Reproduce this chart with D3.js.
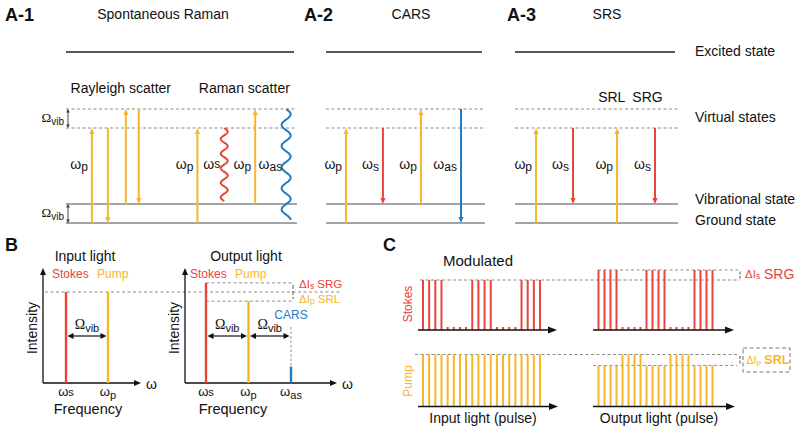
<!DOCTYPE html>
<html><head><meta charset="utf-8">
<script src="https://cdn.jsdelivr.net/npm/d3@7"></script>
<style>body{margin:0;background:#fff}svg{display:block}text{font-family:"Liberation Sans",Arial,Helvetica,sans-serif;fill:#111}</style>
</head><body><script>
// ================= DATA =================
// Panel A – energy-level diagrams
const panelIds = ["A-1", "A-2", "A-3"];
const panelTitles = ["Spontaneous Raman", "CARS", "SRS"];
const levelEnergy = [0, 1, 5, 6, 9];            // in units of Ω_vib
const levelKind = ["solid", "solid", "dashed", "dashed", "excited"];
const stateNames = ["Excited state", "Virtual states", "Vibrational state", "Ground state"];
const stateLabelEnergy = [9, 5.5, 1.2, 0.1];
const subHeads = ["Rayleigh scatter", "Raman scatter", "SRL", "SRG"];
const subHeadPanel = [0, 0, 2, 2];
const subHeadSlot = [0.02, 0.575, 0.51, 0.72];
// transitions: panel, slot (relative position in panel), from/to energy, beam, wavy, label
const transPanel = [0, 0, 0, 0, 0, 0, 0, 0, 1, 1, 1, 1, 2, 2, 2, 2];
const transSlot = [0.112, 0.181, 0.259, 0.315, 0.569, 0.685, 0.819, 0.953, 0.126, 0.358, 0.597, 0.849, 0.129, 0.356, 0.626, 0.859];
const transFrom = [0, 5, 1, 6, 0, 5, 1, 6, 0, 5, 1, 6, 0, 5, 0, 5];
const transTo = [5, 0, 6, 1, 5, 1, 6, 0, 5, 1, 6, 0, 5, 1, 5, 1];
const transBeam = ["p", "p", "p", "p", "p", "s", "p", "as", "p", "s", "p", "as", "p", "s", "p", "s"];
const transWavy = [false, false, false, false, false, true, false, true, false, false, false, false, false, false, false, false];
const transLabel = ["p", "", "", "", "p", "s*", "p", "as", "p", "s", "p", "as", "p", "s", "p", "s"];

// Panel B – spectra
const specInName = ["Stokes", "Pump"];
const specInFreq = [1, 2];            // ωs, ωp  (units of Ω_vib)
const specInI = [1, 1];
const specOutName = ["Stokes", "Pump", "CARS"];
const specOutFreq = [1, 2, 3];        // ωs, ωp, ωas
const specOutI = [1.1, 0.9, 0.18];
const freqTickLabels = ["s*", "p", "as"];

// Panel C – pulse trains (20 pulses, 4-on / 4-off modulation of Stokes)
const stokesIn  = [1,1,1,1,.06,.06,.06,.06,1,1,1,1,.06,.06,.06,.06,1,1,1,1];
const stokesOut = [1.2,1.2,1.2,1.2,.06,.06,.06,.06,1.2,1.2,1.2,1.2,.06,.06,.06,.06,1.2,1.2,1.2,1.2];
const pumpIn    = [1,1,1,1,1,1,1,1,1,1,1,1,1,1,1,1,1,1,1,1];
const pumpOut   = [.79,.79,.79,.79,1,1,1,1,.79,.79,.79,.79,1,1,1,1,.79,.79,.79,.79];

// ================= STYLE =================
const C = {p: "#f7b52a", s: "#e8443a", as: "#1f7cc4", dash: "#8a8a8a", line: "#4a4a4a", dark: "#111"};
const W = 800, H = 432;
const svg = d3.select("body").append("svg").attr("width", W).attr("height", H);

// helpers
function rich(g, x, y, parts, o = {}) {
  const t = g.append("text").attr("x", x).attr("y", y)
    .attr("font-size", o.size || 13).attr("text-anchor", o.anchor || "start")
    .attr("dominant-baseline", "middle");
  if (o.color) t.style("fill", o.color);
  if (o.weight) t.attr("font-weight", o.weight);
  if (o.rotate) t.attr("transform", `rotate(${o.rotate},${x},${y})`);
  let cur = 0;
  parts.forEach(p => {
    const s = t.append("tspan").text(p.t);
    const dy = (p.dy || 0) - cur; cur = p.dy || 0;
    if (dy) s.attr("dy", dy);
    if (p.size) s.attr("font-size", p.size);
    if (p.serif) s.style("font-family", '"Liberation Serif","Times New Roman",serif');
    if (p.weight) s.attr("font-weight", p.weight);
    if (p.color) s.style("fill", p.color);
  });
  return t;
}
function omegaParts(code, size = 14) {
  if (code === "s*") return [{t: "ω", size}, {t: "s", size: size - 2}];
  return [{t: "ω", size}, {t: code, size: size - 2, dy: 3}];
}
function OmegaVib(size = 13) {
  return [{t: "Ω", serif: true, size: size + 1}, {t: "vib", size: size - 2, dy: 3}];
}
function vArrow(g, x, y1, y2, color, w = 2, hw = 2.6, hl = 6) {
  const dir = y2 < y1 ? -1 : 1;
  g.append("line").attr("x1", x).attr("x2", x).attr("y1", y1).attr("y2", y2 - dir * (hl - 1))
    .attr("stroke", color).attr("stroke-width", w);
  g.append("path").attr("d", `M${x},${y2}L${x - hw},${y2 - dir * hl}L${x + hw},${y2 - dir * hl}Z`).attr("fill", color);
}
function hArrow(g, x1, x2, y, color, w = 1.3, hw = 3, hl = 7) {
  const dir = x2 > x1 ? 1 : -1;
  g.append("line").attr("x1", x1).attr("x2", x2 - dir * (hl - 1)).attr("y1", y).attr("y2", y)
    .attr("stroke", color).attr("stroke-width", w);
  g.append("path").attr("d", `M${x2},${y}L${x2 - dir * hl},${y - hw}L${x2 - dir * hl},${y + hw}Z`).attr("fill", color);
}
function dblH(g, x1, x2, y) { hArrow(g, (x1 + x2) / 2, x1, y, C.dark, 1.2, 3, 6); hArrow(g, (x1 + x2) / 2, x2, y, C.dark, 1.2, 3, 6); }
function dblV(g, x, y1, y2) { vArrow(g, x, (y1 + y2) / 2, y1, "#333", 0.9, 1.8, 3.5); vArrow(g, x, (y1 + y2) / 2, y2, "#333", 0.9, 1.8, 3.5); }
function wave(g, x, y1, y2, amp, n, color) {
  const pts = d3.range(0, 201).map(i => { const t = i / 200; return [x + amp * Math.sin(2 * Math.PI * n * t), y1 + (y2 - y1) * t]; });
  g.append("path").attr("d", d3.line()(pts)).attr("fill", "none").attr("stroke", color).attr("stroke-width", 2);
}

// ================= PANEL A =================
const gA = svg.append("g");
const yE = d3.scaleLinear().domain([0, 9]).range([223, 52]);
const panelRange = [[66, 297], [326, 485], [515, 678]];
const panelX = panelRange.map(r => d3.scaleLinear().domain([0, 1]).range(r));
const idX = [5, 304, 507], titleX = [163, 411, 607];

panelIds.forEach((id, i) => {
  gA.append("text").attr("x", idX[i]).attr("y", 16).attr("font-size", 18).attr("font-weight", "bold")
    .attr("dominant-baseline", "middle").text(id);
  gA.append("text").attr("x", titleX[i]).attr("y", 15.5).attr("font-size", 14).attr("text-anchor", "middle")
    .attr("dominant-baseline", "middle").text(panelTitles[i]);
  levelEnergy.forEach((e, k) => {
    const kind = levelKind[k];
    const ln = gA.append("line").attr("x1", panelRange[i][0]).attr("x2", panelRange[i][1] - (kind === "excited" ? 3 : 0))
      .attr("y1", yE(e)).attr("y2", yE(e));
    if (kind === "dashed") ln.attr("stroke", C.dash).attr("stroke-width", 1).attr("stroke-dasharray", "3,2.5");
    else if (kind === "excited") ln.attr("stroke", "#222").attr("stroke-width", 1.3);
    else ln.attr("stroke", C.line).attr("stroke-width", 1);
  });
});
stateNames.forEach((n, i) => {
  gA.append("text").attr("x", 695).attr("y", yE(stateLabelEnergy[i])).attr("font-size", 14)
    .attr("dominant-baseline", "middle").text(n);
});
subHeads.forEach((s, i) => {
  const p = subHeadPanel[i];
  gA.append("text").attr("x", panelX[p](subHeadSlot[i])).attr("y", p === 2 ? 98 : 89).attr("font-size", 14)
    .attr("dominant-baseline", "middle").text(s);
});
// Ω_vib markers
[[5, 6], [0, 1]].forEach(([a, b]) => {
  dblV(gA, 68, yE(a), yE(b));
  rich(gA, 64, (yE(a) + yE(b)) / 2, OmegaVib(12), {anchor: "end"});
});
// transitions
transSlot.forEach((s, i) => {
  const x = panelX[transPanel[i]](s), y1 = yE(transFrom[i]), y2 = yE(transTo[i]);
  const col = C[transBeam[i]];
  if (transWavy[i]) {
    const isBlue = transBeam[i] === "as";
    wave(gA, x, y1, y2 - 3, isBlue ? 4.5 : 3.5, isBlue ? 5.25 : 5, col);
  } else vArrow(gA, x, y1, y2, col);
  if (transLabel[i]) rich(gA, x - 4, 165, omegaParts(transLabel[i]), {anchor: "end"});
});

// ================= PANEL B =================
const gB = svg.append("g");
gB.append("text").attr("x", 5).attr("y", 246).attr("font-size", 18).attr("font-weight", "bold")
  .attr("dominant-baseline", "middle").text("B");
const yI = d3.scaleLinear().domain([0, 1]).range([383, 292]);
const specPanels = [
  {title: "Input light", origin: 43, xEnd: 141, x: d3.scaleLinear().domain([1, 2]).range([66, 108]),
   names: specInName, f: specInFreq, I: specInI, titleX: 85, legendX: [52, 97], freqX: 88},
  {title: "Output light", origin: 185, xEnd: 337, x: d3.scaleLinear().domain([1, 2]).range([206, 248.5]),
   names: specOutName, f: specOutFreq, I: specOutI, titleX: 246, legendX: [190, 235], freqX: 233}
];
// reference dashed line at input intensity
gB.append("line").attr("x1", 45).attr("x2", 342).attr("y1", yI(1)).attr("y2", yI(1))
  .attr("stroke", C.dash).attr("stroke-dasharray", "3,2.5");
const beamKey = {Stokes: "s", Pump: "p", CARS: "as"};
specPanels.forEach((P, pi) => {
  const g = gB.append("g");
  vArrow(g, P.origin, yI(0), 268, C.dark, 1.3, 3, 7);
  hArrow(g, P.origin, P.xEnd, yI(0), C.dark, 1.3, 3, 7);
  g.append("text").attr("x", P.xEnd + 5).attr("y", yI(0) + 2).attr("font-size", 14).attr("dominant-baseline", "middle").text("ω");
  g.append("text").attr("x", P.titleX).attr("y", 257).attr("font-size", 14).attr("text-anchor", "middle").attr("dominant-baseline", "middle").text(P.title);
  g.append("text").attr("x", P.freqX).attr("y", 410).attr("font-size", 14.5).attr("text-anchor", "middle").attr("dominant-baseline", "middle").text("Frequency");
  rich(g, P.origin - 10, 328, [{t: "Intensity"}], {anchor: "middle", rotate: -90, size: 14});
  P.names.forEach((n, k) => {
    if (k < 2) g.append("text").attr("x", P.legendX[k]).attr("y", 275).attr("font-size", 12).attr("dominant-baseline", "middle")
      .style("fill", C[beamKey[n]]).text(n);
    const x = P.x(P.f[k]);
    g.append("line").attr("x1", x).attr("x2", x).attr("y1", yI(0)).attr("y2", yI(P.I[k]))
      .attr("stroke", C[beamKey[n]]).attr("stroke-width", 2.4);
    rich(g, x, 393, omegaParts(freqTickLabels[k], 13), {anchor: "middle"});
  });
  for (let k = 0; k < P.f.length - 1; k++) {
    const a = P.x(P.f[k]), b = P.x(P.f[k + 1]), yy = 336;
    dblH(g, a + 1.5, b - 1.5, yy);
    rich(g, (a + b) / 2, 326, OmegaVib(13), {anchor: "middle"});
  }
  if (pi === 1) {
    const xs = P.x(1), xe = P.x(3) + 1;
    [1.1, 0.9].forEach(v => g.append("line").attr("x1", xs).attr("x2", xe).attr("y1", yI(v)).attr("y2", yI(v))
      .attr("stroke", C.dash).attr("stroke-dasharray", "3,2.5"));
    g.append("line").attr("x1", xe + 1).attr("x2", xe + 1).attr("y1", yI(1.1) + 2).attr("y2", yI(0.9) - 2)
      .attr("stroke", "#555").attr("stroke-width", 1).attr("stroke-dasharray", "4,2");
    rich(g, xe + 7, yI(1.1) + 2, [{t: "ΔI", color: C.s}, {t: "s", size: 8.5, dy: 2, color: C.s}, {t: " SRG", color: C.s}], {size: 11.5});
    rich(g, xe + 7, yI(0.9) - 1, [{t: "ΔI", color: C.p}, {t: "p", size: 8.5, dy: 2, color: C.p}, {t: " SRL", color: C.p}], {size: 11.5});
    const xa = P.x(3);
    g.append("line").attr("x1", xa).attr("x2", xa).attr("y1", 327).attr("y2", yI(specOutI[2]))
      .attr("stroke", C.dash).attr("stroke-dasharray", "2.5,2");
    g.append("text").attr("x", xa).attr("y", 316).attr("font-size", 12).attr("text-anchor", "middle")
      .attr("dominant-baseline", "middle").style("fill", C.as).text("CARS");
  }
});

// ================= PANEL C =================
const gC = svg.append("g");
gC.append("text").attr("x", 383).attr("y", 246).attr("font-size", 18).attr("font-weight", "bold")
  .attr("dominant-baseline", "middle").text("C");
gC.append("text").attr("x", 443).attr("y", 262).attr("font-size", 15).attr("dominant-baseline", "middle").text("Modulated");
const idx = d3.range(20);
const xIn = d3.scaleLinear().domain([0, 19]).range([423, 540]);
const xOut = d3.scaleLinear().domain([0, 19]).range([598.5, 712.5]);
const yS = d3.scaleLinear().domain([0, 1]).range([330, 280]);
const yP = d3.scaleLinear().domain([0, 1]).range([406.5, 354.5]);
const trains = [
  {vals: stokesIn, x: xIn, y: yS, col: C.s, ax: [418, 557]},
  {vals: stokesOut, x: xOut, y: yS, col: C.s, ax: [593, 734]},
  {vals: pumpIn, x: xIn, y: yP, col: C.p, ax: [418, 558]},
  {vals: pumpOut, x: xOut, y: yP, col: C.p, ax: [593, 735]}
];
// dashed reference lines
[[yS(1), 420, 740], [yS(1.2), 598, 738], [yP(1), 415, 737], [yP(0.79), 593, 737]].forEach(([y, a, b]) =>
  gC.append("line").attr("x1", a).attr("x2", b).attr("y1", y).attr("y2", y).attr("stroke", C.dash).attr("stroke-dasharray", "3,2.5"));
trains.forEach(T => {
  gC.append("g").selectAll("line").data(idx).join("line")
    .attr("x1", i => T.x(i)).attr("x2", i => T.x(i)).attr("y1", T.y(0)).attr("y2", i => T.y(T.vals[i]))
    .attr("stroke", T.col).attr("stroke-width", 2);
  hArrow(gC, T.ax[0], T.ax[1], T.y(0), C.dark, 1.5, 3.5, 9);
});
// brackets
[[yS(1.2), yS(1)], [yP(1), yP(0.79)]].forEach(([a, b]) =>
  gC.append("line").attr("x1", 740).attr("x2", 740).attr("y1", a + 1.5).attr("y2", b - 1.5).attr("stroke", "#555").attr("stroke-dasharray", "3,1.5"));
rich(gC, 745, 275, [{t: "ΔI", color: C.s}, {t: "s", size: 8.5, dy: 2, color: C.s}, {t: " SRG", color: C.s, size: 14}], {size: 11.5});
gC.append("rect").attr("x", 743).attr("y", 348).attr("width", 47).attr("height", 24).attr("fill", "none")
  .attr("stroke", "#777").attr("stroke-dasharray", "4,2.5");
rich(gC, 746.5, 361, [{t: "ΔI", color: C.p}, {t: "p", size: 8, dy: 2, color: C.p}, {t: " SRL", color: C.p, size: 12.5, weight: "bold"}], {size: 10.5});
rich(gC, 409, 304, [{t: "Stokes"}], {anchor: "middle", rotate: -90, size: 12, color: C.s});
rich(gC, 409, 381, [{t: "Pump"}], {anchor: "middle", rotate: -90, size: 12, color: C.p});
gC.append("text").attr("x", 483).attr("y", 419).attr("font-size", 14).attr("text-anchor", "middle").attr("dominant-baseline", "middle").text("Input light (pulse)");
gC.append("text").attr("x", 659).attr("y", 419).attr("font-size", 14).attr("text-anchor", "middle").attr("dominant-baseline", "middle").text("Output light (pulse)");
</script></body></html>
